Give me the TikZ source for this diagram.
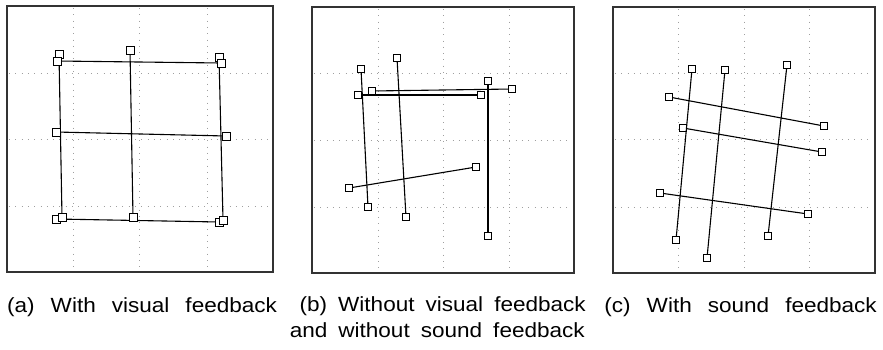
\documentclass[tikz,border=0pt]{standalone}
\usepackage{fontspec}
\setmainfont[FakeStretch=1.1]{Liberation Sans}
\newcommand\capfont{\fontsize{20.5}{25}\selectfont\spaceskip=16pt\relax}
\newcommand\capfontb{\fontsize{20.5}{25}\selectfont\spaceskip=11pt\relax}
\tikzset{
  sq/.style={draw, fill=white, rectangle, minimum size=7pt, inner sep=0pt, line width=1pt},
  seg/.style={line width=1.1pt},
  panelframe/.style={line width=1.4pt, draw=black!80},
  gridline/.style={gray!75, line width=0.7pt, dash pattern=on 0.8pt off 5.5pt},
  captext/.style={font=\capfont, inner sep=0pt},
  captextb/.style={font=\capfontb, inner sep=0pt}
}
\begin{document}
\begin{tikzpicture}[x=1pt,y=-1pt]
\useasboundingbox (0,0) rectangle (883,349);
% frames
\draw[panelframe] (7,6) rectangle (273,272);
\draw[panelframe] (312,7) rectangle (574,273);
\draw[panelframe] (613,7) rectangle (875,273);
% grids
\foreach \x in {73,139,207} \draw[gridline] (\x,8) -- (\x,270);
\foreach \y in {73,139,206} \draw[gridline] (9,\y) -- (271,\y);
\foreach \x in {378,443,509} \draw[gridline] (\x,9) -- (\x,271);
\foreach \y in {73,140,207} \draw[gridline] (314,\y) -- (572,\y);
\foreach \x in {678,744,809} \draw[gridline] (\x,9) -- (\x,271);
\foreach \y in {73,139,207} \draw[gridline] (615,\y) -- (873,\y);
% panel a
\node[sq] (a1) at (59,54) {};
\node[sq] (a2) at (57,61) {};
\node[sq] (a3) at (130,50) {};
\node[sq] (a4) at (219,57) {};
\node[sq] (a5) at (221,63) {};
\node[sq] (a6) at (56,132) {};
\node[sq] (a7) at (226,136) {};
\node[sq] (a8) at (56,219) {};
\node[sq] (a9) at (62,217) {};
\node[sq] (a10) at (133,217) {};
\node[sq] (a11) at (219,222) {};
\node[sq] (a12) at (223,220) {};
\draw[seg] (a2.center) -- (a5.center);
\draw[seg] (a6.center) -- (a7.center);
\draw[seg] (a8.center) -- (a11.center);
\draw[seg] (a1.center) -- (a9.center);
\draw[seg] (a3.center) -- (a10.center);
\draw[seg] (a4.center) -- (a12.center);
% panel b
\node[sq] (b1) at (361,69) {};
\node[sq] (b2) at (397,58) {};
\node[sq] (b3) at (358,95) {};
\node[sq] (b4) at (372,91) {};
\node[sq] (b5) at (481,95) {};
\node[sq] (b6) at (488,81) {};
\node[sq] (b7) at (512,89) {};
\node[sq] (b8) at (349,188) {};
\node[sq] (b9) at (476,167) {};
\node[sq] (b10) at (368,207) {};
\node[sq] (b11) at (406,217) {};
\node[sq] (b12) at (488,236) {};
\draw[seg] (b1) -- (b10);
\draw[seg] (b2) -- (b11);
\draw[seg] (b3) -- (b5);
\draw[seg] (b4) -- (b7);
\draw[seg] (b6) -- (b12);
\draw[seg] (b8) -- (b9);
% panel c
\node[sq] (c1) at (692,69) {};
\node[sq] (c2) at (725,70) {};
\node[sq] (c3) at (787,65) {};
\node[sq] (c4) at (669,97) {};
\node[sq] (c5) at (824,126) {};
\node[sq] (c6) at (683,128) {};
\node[sq] (c7) at (822,152) {};
\node[sq] (c8) at (660,193) {};
\node[sq] (c9) at (808,214) {};
\node[sq] (c10) at (676,240) {};
\node[sq] (c11) at (768,236) {};
\node[sq] (c12) at (707,258) {};
\draw[seg] (c1) -- (c10);
\draw[seg] (c2) -- (c12);
\draw[seg] (c3) -- (c11);
\draw[seg] (c4) -- (c5);
\draw[seg] (c6) -- (c7);
\draw[seg] (c8) -- (c9);
% redraw squares of panel a on top
\foreach \n in {a1,a2,a3,a4,a5,a6,a7,a8,a9,a10,a11,a12}
  \draw[line width=1pt, fill=white] (\n.south west) rectangle (\n.north east);
% captions
\node[captext, anchor=base west] (capa) at (7,312) {(a) With visual feedback};
\node[captextb, anchor=base east] (capb1) at (586,311) {(b) Without visual feedback};
\node[captextb, anchor=base east] (capb2) at (585,337) {and without sound feedback};
\node[captext, anchor=base east] (capc) at (877,312) {(c) With sound feedback};
\end{tikzpicture}
\end{document}
